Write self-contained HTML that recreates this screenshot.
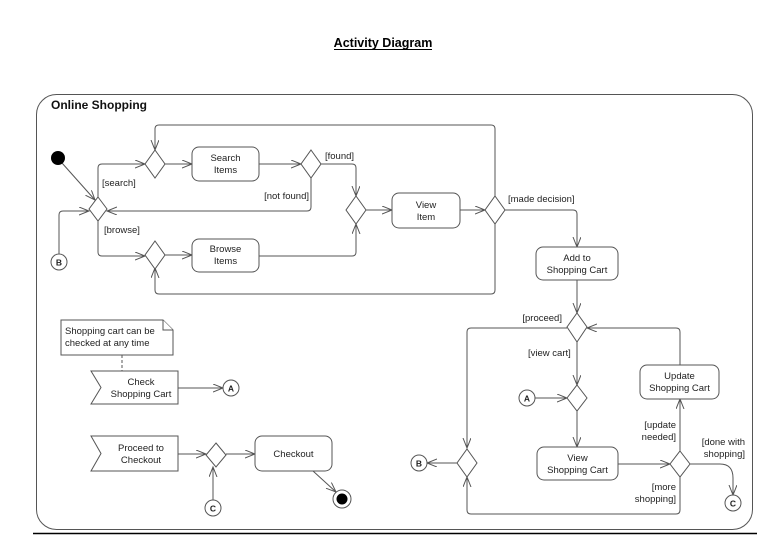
<!DOCTYPE html>
<html><head><meta charset="utf-8"><style>
html,body{margin:0;padding:0;background:#fff;}
svg{display:block;}
text{font-family:"Liberation Sans",Arial,sans-serif;font-size:9.5px;fill:#222;}
.l{stroke:#555;stroke-width:1;fill:none;}
.n{stroke:#555;stroke-width:1;fill:#fff;}
</style></head><body>
<svg width="783" height="540" viewBox="0 0 783 540" xmlns="http://www.w3.org/2000/svg">
<defs>
<marker id="a" markerWidth="12" markerHeight="10" refX="10" refY="4" orient="auto" markerUnits="userSpaceOnUse">
<path d="M0,0 L10,4 L0,8" fill="none" stroke="#555" stroke-width="1"/>
</marker>
</defs>
<text x="383" y="47" text-anchor="middle" style="font-size:12.5px;font-weight:bold;fill:#000">Activity Diagram</text>
<line x1="334" y1="49.5" x2="432" y2="49.5" stroke="#000" stroke-width="1"/>
<rect x="36.5" y="94.5" width="716" height="435" rx="20" class="l" stroke="#777"/>
<line x1="33" y1="533.5" x2="757" y2="533.5" stroke="#000" stroke-width="1.5"/>
<text x="51" y="109" style="font-size:12px;font-weight:bold;fill:#111">Online Shopping</text>

<!-- connectors left part -->
<line x1="62" y1="163" x2="95" y2="200" class="l" marker-end="url(#a)"/>
<path d="M59,254 V215 Q59,211 63,211 H89" class="l" marker-end="url(#a)"/>
<path d="M98,197 V168 Q98,164 102,164 H145" class="l" marker-end="url(#a)"/>
<path d="M98,221 V252 Q98,256 102,256 H145" class="l" marker-end="url(#a)"/>
<line x1="165" y1="164" x2="192" y2="164" class="l" marker-end="url(#a)"/>
<line x1="165" y1="255" x2="192" y2="255" class="l" marker-end="url(#a)"/>
<line x1="259" y1="164" x2="301" y2="164" class="l" marker-end="url(#a)"/>
<path d="M321,164 H352 Q356,164 356,168 V196" class="l" marker-end="url(#a)"/>
<path d="M311,178 V207 Q311,211 307,211 H107" class="l" marker-end="url(#a)"/>
<path d="M259,256 H352 Q356,256 356,252 V224" class="l" marker-end="url(#a)"/>
<line x1="366" y1="210" x2="392" y2="210" class="l" marker-end="url(#a)"/>
<line x1="460" y1="210" x2="485" y2="210" class="l" marker-end="url(#a)"/>
<path d="M495,196 V129 Q495,125 491,125 H159 Q155,125 155,129 V150" class="l" marker-end="url(#a)"/>
<path d="M495,224 V290 Q495,294 491,294 H159 Q155,294 155,290 V268" class="l" marker-end="url(#a)"/>
<path d="M505,210 H573 Q577,210 577,214 V247" class="l" marker-end="url(#a)"/>

<!-- right part -->
<line x1="577" y1="280" x2="577" y2="313" class="l" marker-end="url(#a)"/>
<path d="M567,328 H471 Q467,328 467,332 V448" class="l" marker-end="url(#a)"/>
<line x1="457" y1="463" x2="427" y2="463" class="l" marker-end="url(#a)"/>
<line x1="577" y1="342" x2="577" y2="385" class="l" marker-end="url(#a)"/>
<line x1="535" y1="398" x2="567" y2="398" class="l" marker-end="url(#a)"/>
<line x1="577" y1="411" x2="577" y2="447" class="l" marker-end="url(#a)"/>
<line x1="618" y1="464" x2="670" y2="464" class="l" marker-end="url(#a)"/>
<line x1="680" y1="451" x2="680" y2="399" class="l" marker-end="url(#a)"/>
<path d="M680,365 V332 Q680,328 676,328 H587" class="l" marker-end="url(#a)"/>
<path d="M680,477 V510 Q680,514 676,514 H471 Q467,514 467,510 V477" class="l" marker-end="url(#a)"/>
<path d="M690,464 H720 Q733,464 733,478 V495" class="l" marker-end="url(#a)"/>

<!-- bottom-left -->
<line x1="178" y1="388" x2="223" y2="388" class="l" marker-end="url(#a)"/>
<line x1="178" y1="454" x2="206" y2="454" class="l" marker-end="url(#a)"/>
<line x1="226" y1="454" x2="255" y2="454" class="l" marker-end="url(#a)"/>
<line x1="213" y1="500" x2="213" y2="467" class="l" marker-end="url(#a)"/>
<line x1="313" y1="471" x2="336" y2="492" class="l" marker-end="url(#a)"/>
<line x1="122" y1="355" x2="122" y2="371" class="l" stroke-dasharray="3,2"/>

<!-- nodes -->
<circle cx="58" cy="158" r="7" fill="#000"/>
<g class="n">
<polygon points="98,197 107,209 98,221 89,209"/>
<polygon points="155,150 165,164 155,178 145,164"/>
<polygon points="311,150 321,164 311,178 301,164"/>
<polygon points="356,196 366,210 356,224 346,210"/>
<polygon points="495,196 505,210 495,224 485,210"/>
<polygon points="155,241 165,255 155,269 145,255"/>
<polygon points="577,313 587,327 577,342 567,327"/>
<polygon points="467,449 477,463 467,477 457,463"/>
<polygon points="577,385 587,398 577,411 567,398"/>
<polygon points="680,451 690,464 680,477 670,464"/>
<polygon points="216,443 226,455 216,467 206,455"/>
<rect x="192" y="147" width="67" height="34" rx="7"/>
<rect x="192" y="239" width="67" height="33" rx="7"/>
<rect x="392" y="193" width="68" height="35" rx="7"/>
<rect x="536" y="247" width="82" height="33" rx="7"/>
<rect x="640" y="365" width="79" height="34" rx="7"/>
<rect x="537" y="447" width="81" height="33" rx="7"/>
<rect x="255" y="436" width="77" height="35" rx="7"/>
<path d="M61,320 H163 L173,330 V355 H61 Z"/>
<path d="M163,320 V330 H173"/>
<path d="M91,371 H178 V404 H91 L101,387.5 Z"/>
<path d="M91,436 H178 V471 H91 L101,453.5 Z"/>
<circle cx="59" cy="262" r="8"/>
<circle cx="419" cy="463" r="8"/>
<circle cx="527" cy="398" r="8"/>
<circle cx="231" cy="388" r="8"/>
<circle cx="213" cy="508" r="8"/>
<circle cx="733" cy="503" r="8"/>
<circle cx="342" cy="499" r="9"/>
</g>
<circle cx="342" cy="499" r="5.5" fill="#000"/>

<!-- text -->
<g text-anchor="middle">
<text x="225.5" y="161">Search</text><text x="225.5" y="173">Items</text>
<text x="225.5" y="252">Browse</text><text x="225.5" y="264">Items</text>
<text x="426" y="208">View</text><text x="426" y="220">Item</text>
<text x="577" y="261">Add to</text><text x="577" y="273">Shopping Cart</text>
<text x="679.5" y="379">Update</text><text x="679.5" y="391">Shopping Cart</text>
<text x="577.5" y="461">View</text><text x="577.5" y="473">Shopping Cart</text>
<text x="293.5" y="457">Checkout</text>
<text x="141" y="385">Check</text><text x="141" y="397">Shopping Cart</text>
<text x="141" y="451">Proceed to</text><text x="141" y="463">Checkout</text>
<text x="59" y="265.5" style="font-weight:bold;font-size:8.5px">B</text>
<text x="419" y="466.5" style="font-weight:bold;font-size:8.5px">B</text>
<text x="527" y="401.5" style="font-weight:bold;font-size:8.5px">A</text>
<text x="231" y="391.5" style="font-weight:bold;font-size:8.5px">A</text>
<text x="213" y="511.5" style="font-weight:bold;font-size:8.5px">C</text>
<text x="733" y="506.5" style="font-weight:bold;font-size:8.5px">C</text>
</g>
<text x="65" y="334">Shopping cart can be</text>
<text x="65" y="346">checked at any time</text>
<text x="102" y="186">[search]</text>
<text x="104" y="233">[browse]</text>
<text x="325" y="159">[found]</text>
<text x="309" y="199" text-anchor="end">[not found]</text>
<text x="508" y="202">[made decision]</text>
<text x="562" y="321" text-anchor="end">[proceed]</text>
<text x="528" y="356">[view cart]</text>
<text x="676" y="428" text-anchor="end">[update</text>
<text x="676" y="440" text-anchor="end">needed]</text>
<text x="745" y="445" text-anchor="end">[done with</text>
<text x="745" y="457" text-anchor="end">shopping]</text>
<text x="676" y="490" text-anchor="end">[more</text>
<text x="676" y="502" text-anchor="end">shopping]</text>
</svg>
</body></html>
